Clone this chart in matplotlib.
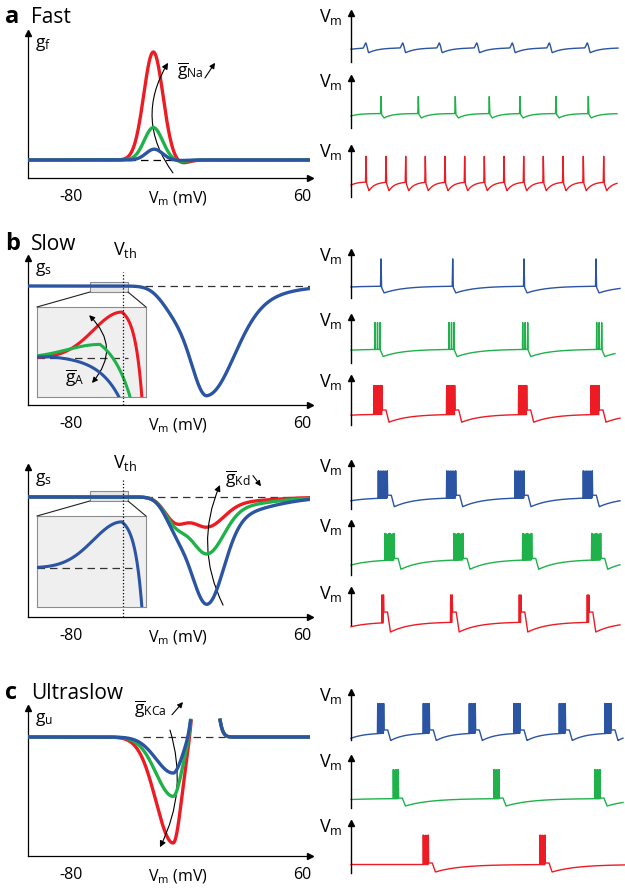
import numpy as np
import matplotlib.pyplot as plt
from matplotlib.patches import Rectangle, ConnectionPatch
from matplotlib.transforms import blended_transform_factory

plt.rcParams['font.family'] = ['Open Sans', 'DejaVu Sans']
plt.rcParams['mathtext.fontset'] = 'custom'
plt.rcParams['mathtext.rm'] = 'Open Sans'
plt.rcParams['mathtext.it'] = 'Open Sans'
plt.rcParams['mathtext.bf'] = 'Open Sans:bold'

RED, GREEN, BLUE = '#ed1c24', '#1fb24a', '#2b54a3'
COLORS = [RED, GREEN, BLUE]
W, H = 625, 888

# ---------------- conductance curves (left column), values in mV / arbitrary g
V = np.linspace(-106, 65, 1500)
V_TH = -48.5

fast_center = [-30.0, -30.0, -29.5]        # red, green, blue
fast_height = [1.0, 0.30, 0.10]
fast_sigma = [5.8, 5.5, 5.0]
fast_undershoot = [-0.035, -0.015, -0.005]

slow1_shoulder = [-18.0, 8.0, 0.18]        # center, sigma, depth
slow1_dip = [2.5, 10.0, 16.0, 0.8]         # center, sigma left, sigma right, depth
slow1_tail = [2.5, 10.0, 30.0, 0.2]

slow2_depth = [0.28, 0.53, 1.0]            # red, green, blue
slow2_shoulder = [-17.0, 6.5, 0.20]
slow2_dip = [2.5, 10.2, 10.0, 0.8]
slow2_tail = [2.5, 10.2, 30.0, 0.2]

useq_depth = [1.0, 0.56, 0.34]             # red, green, blue
useq_dip = [-18.0, 10.4, 5.0]
useq_rise = [1.3, 4.0, 2.2]                # center, sigma, height
useq_clip = 0.16

# inset curves: height, peak, sigma left, fall scale, fall slope
inset1_h = [1.18, 0.35, 0.03]
inset1_peak = [-50.5, -55.1, -65.7]
inset1_sl = [6.0, 7.0, 6.0]
inset1_c = [0.138, 0.40, 0.045]
inset1_k = [1.5, 4.3, 4.6]
inset_range = [-68.4, -45.4]

# ---------------- voltage traces (right column), t in ms-like units
trace_events = {
    'a1': [14.7, 51.7, 88.3, 125.7, 161.3, 198.3, 236.3],
    'a2': [30, 67.3, 104.3, 138.3, 169, 205, 237.3],
    'a3': [15, 35, 54.7, 74.3, 94, 113.7, 133.3, 153, 172.7, 192.3, 212, 232.3, 252.7],
    'b1': [30, 101.7, 173, 245],
    'b2': [24, 98, 171.7, 245.7],
    'b3': [23, 95.7, 167.7, 240],
    'b4': [27.3, 95.7, 164, 232.3],
    'b5': [34, 103, 171.7, 240.7],
    'b6': [31, 99.7, 168.3, 236.3],
    'c1': [26.7, 72.3, 118.3, 163, 208.3, 254],
    'c2': [42.3, 143, 244],
    'c3': [72.3, 189],
}
trace_color = {'a1': BLUE, 'a2': GREEN, 'a3': RED, 'b1': BLUE, 'b2': GREEN, 'b3': RED,
               'b4': BLUE, 'b5': GREEN, 'b6': RED, 'c1': BLUE, 'c2': GREEN, 'c3': RED}
# spikes per burst, burst width
trace_nspk = {'a1': 1, 'a2': 1, 'a3': 1, 'b1': 1, 'b2': 3, 'b3': 6, 'b4': 14, 'b5': 9,
              'b6': 2, 'c1': 10, 'c2': 8, 'c3': 8}
trace_bw = {'a1': 0, 'a2': 0, 'a3': 0, 'b1': 0, 'b2': 5, 'b3': 8, 'b4': 9, 'b5': 9,
            'b6': 1.5, 'c1': 6, 'c2': 5, 'c3': 5}
# levels: spike top, pre-spike, trough, start, hump (None = no plateau)
trace_top = {'a1': .39, 'a2': .63, 'a3': .83, 'b1': .85, 'b2': .88, 'b3': .84, 'b4': .83,
             'b5': .80, 'b6': .86, 'c1': .76, 'c2': .77, 'c3': .76}
trace_pre = {'a1': .29, 'a2': .29, 'a3': .31, 'b1': .26, 'b2': .30, 'b3': .23, 'b4': .25,
             'b5': .30, 'b6': .09, 'c1': .15, 'c2': .19, 'c3': .17}
trace_trough = {'a1': .19, 'a2': .20, 'a3': .13, 'b1': .11, 'b2': .14, 'b3': .06, 'b4': .05,
                'b5': .11, 'b6': -.20, 'c1': -.01, 'c2': .04, 'c3': .02}
trace_start = {'a1': .26, 'a2': .24, 'a3': .24, 'b1': .24, 'b2': .28, 'b3': .21, 'b4': .18,
               'b5': .19, 'b6': -.05, 'c1': .035, 'c2': .17, 'c3': .17}
trace_hump = {'b3': .32, 'b4': .30, 'b5': .32, 'b6': .37, 'c1': .21, 'c2': .20, 'c3': .20}
trace_tau = {'a1': 10, 'a2': 8, 'a3': 6, 'b1': 20, 'b2': 20, 'b3': 20, 'b4': 20, 'b5': 20,
             'b6': 20, 'c1': 14, 'c2': 25, 'c3': 25}
trace_end = {'a1': 267, 'a2': 266, 'a3': 266, 'b1': 269, 'b2': 264, 'b3': 269, 'b4': 269,
             'b5': 269, 'b6': 269, 'c1': 272, 'c2': 272, 'c3': 274}


def bump(v, c, sl, sr):
    s = np.where(v < c, sl, sr)
    return np.exp(-(v - c) ** 2 / (2 * s ** 2))


def inset_curve(v, h, vp, sl, c, k):
    left = h * np.exp(-(v - vp) ** 2 / (2 * sl ** 2))
    right = h - c * (np.exp((v - vp) / k) - 1)
    return np.where(v < vp, left, right)


def make_trace(key):
    t = np.arange(0, trace_end[key], 0.02)
    pre, trough, tau = trace_pre[key], trace_trough[key], trace_tau[key]
    hump = trace_hump.get(key)
    hump_len = 4 if hump is not None else 0
    hump_lv = hump if hump is not None else pre
    fall = 3.0
    v = pre - (pre - trace_start[key]) * np.exp(-t / tau)
    for e in trace_events[key]:
        s = t - (e + trace_bw[key])
        seg = np.where(s < hump_len, hump_lv,
                       np.where(s < hump_len + fall,
                                hump_lv + (trough - hump_lv) * (s - hump_len) / fall,
                                trough + (pre - trough) * (1 - np.exp(-(s - hump_len - fall) / tau))))
        v = np.where(s >= 0, seg, v)
    n = trace_nspk[key]
    if key == 'a1':
        hw = 2.5
    elif n == 1:
        hw = 0.5
    else:
        hw = 0.27
    for e in trace_events[key]:
        for ts in e + np.linspace(0, trace_bw[key], n):
            tri = np.clip(1 - np.abs(t - ts) / hw, 0, 1)
            v = v + (trace_top[key] - v) * tri
    return t, v


fig = plt.figure(figsize=(6.25, 8.88), dpi=100)
fig.patch.set_facecolor('white')


def add_ax(x0, y0, x1, y1):
    return fig.add_axes([x0 / W, 1 - y1 / H, (x1 - x0) / W, (y1 - y0) / H])


def style_left(ax, ylabel, ylim):
    ax.set_xlim(-106, 65)
    ax.set_ylim(*ylim)
    for s in ['top', 'right']:
        ax.spines[s].set_visible(False)
    for s in ['left', 'bottom']:
        ax.spines[s].set_linewidth(0.9)
    ax.set_yticks([])
    ax.set_xticks([-80, -15, 60])
    ax.set_xticklabels(['-80', r'$\mathrm{V}_{\mathrm{m}}$ (mV)', '60'], fontsize=11.5)
    ax.tick_params(axis='x', length=0, pad=8)
    ax.plot(0, 1, marker='^', ms=5, color='k', transform=ax.transAxes, clip_on=False)
    ax.plot(1, 0, marker='>', ms=5, color='k', transform=ax.transAxes, clip_on=False)
    ax.text(0.025, 0.92, ylabel, transform=ax.transAxes, fontsize=12.5, ha='left', va='center')
    ax.patch.set_alpha(0)


def add_inset(ax, box, rect_y):
    ax.add_patch(Rectangle((inset_range[0], rect_y[0]), inset_range[1] - inset_range[0],
                           rect_y[1] - rect_y[0], facecolor='#e6e6e6', edgecolor='#8c8c8c',
                           lw=0.8, zorder=1))
    axi = add_ax(*box)
    axi.set_facecolor('#efefef')
    for s in axi.spines.values():
        s.set_edgecolor('#8c8c8c')
        s.set_linewidth(0.8)
    axi.set_xticks([])
    axi.set_yticks([])
    tr = blended_transform_factory(ax.transData, axi.transAxes)
    axi.plot([V_TH, V_TH], [0, 1], ls=':', color='k', lw=0.9, transform=tr, zorder=5)
    for xa, xb in [(inset_range[0], 0), (inset_range[1], 1)]:
        fig.add_artist(ConnectionPatch(xyA=(xa, rect_y[0]), coordsA=ax.transData,
                                       xyB=(xb, 1), coordsB=axi.transAxes,
                                       color='#222222', lw=0.8))
    return axi


# ---------- panel a
axA = add_ax(28, 33, 310, 178)
style_left(axA, r'$\mathrm{g}_{\mathrm{f}}$', (-0.167, 1.176))
axA.plot([-106, 65], [0, 0], color='k', lw=0.9, dashes=(6, 4), zorder=1)
for i in range(3):
    g = fast_height[i] * bump(V, fast_center[i], fast_sigma[i], fast_sigma[i]) \
        + fast_undershoot[i] * bump(V, -14, 4, 5)
    axA.plot(V, g, color=COLORS[i], lw=2.4, zorder=3 + i)
axA.annotate('', xy=(-21.1, 0.9), xytext=(-18.1, -0.12),
             arrowprops=dict(arrowstyle='-|>', color='k', lw=0.8, mutation_scale=9,
                             connectionstyle='arc3,rad=-0.33', shrinkA=0, shrinkB=0))
axA.text(-7.8, 0.83, r'$\overline{\mathrm{g}}_{\mathrm{Na}}$', fontsize=12.5, ha='center', va='center')
axA.annotate('', xy=(7.4, 0.9), xytext=(1.3, 0.76),
             arrowprops=dict(arrowstyle='-|>', color='k', lw=0.8, mutation_scale=8,
                             shrinkA=0, shrinkB=0))

# ---------- panel b (top)
axB1 = add_ax(28, 258, 310, 405)
style_left(axB1, r'$\mathrm{g}_{\mathrm{s}}$', (-1.092, 0.257))
gB1 = -slow1_shoulder[2] * bump(V, slow1_shoulder[0], slow1_shoulder[1], slow1_shoulder[1]) \
      - slow1_dip[3] * bump(V, *slow1_dip[:3]) - slow1_tail[3] * bump(V, *slow1_tail[:3])
axB1.plot([-35, 65], [0, 0], color='#333333', lw=0.9, dashes=(6, 4), zorder=2)
axB1.plot(V, gB1, color=BLUE, lw=2.4, zorder=3)
axB1.plot([V_TH, V_TH], [-1.092, 0.128], ls=':', color='k', lw=0.9, zorder=4)
axB1.text(-47.2, 0.33, r'$\mathrm{V}_{\mathrm{th}}$', fontsize=13, ha='center', va='center')
axI1 = add_inset(axB1, (37, 307, 146, 397), (-0.055, 0.037))
Vi = np.linspace(inset_range[0], inset_range[1], 600)
axI1.plot([inset_range[0], -49.2], [0, 0], color='#333333', lw=0.9, dashes=(6, 4), zorder=2)
for i in range(3):
    axI1.plot(Vi, inset_curve(Vi, inset1_h[i], inset1_peak[i], inset1_sl[i], inset1_c[i], inset1_k[i]),
              color=COLORS[i], lw=2.2, zorder=3 + i)
axI1.annotate('', xy=(-56.8, -0.64), xytext=(-57.4, 1.10),
              arrowprops=dict(arrowstyle='<|-|>', color='k', lw=0.8, mutation_scale=8,
                              connectionstyle='arc3,rad=-0.46', shrinkA=0, shrinkB=0))
axI1.text(-60.4, -0.51, r'$\overline{\mathrm{g}}_{\mathrm{A}}$', fontsize=12.5, ha='center', va='center')
axI1.set_xlim(*inset_range)
axI1.set_ylim(-1, 1.31)

# ---------- panel b (bottom)
axB2 = add_ax(28, 467, 310, 617)
style_left(axB2, r'$\mathrm{g}_{\mathrm{s}}$', (-1.121, 0.28))
axB2.plot([-35, 65], [0, 0], color='#333333', lw=0.9, dashes=(6, 4), zorder=2)
for i in range(3):
    g = -slow2_shoulder[2] * bump(V, slow2_shoulder[0], slow2_shoulder[1], slow2_shoulder[1]) \
        - slow2_depth[i] * (slow2_dip[3] * bump(V, *slow2_dip[:3]) + slow2_tail[3] * bump(V, *slow2_tail[:3]))
    axB2.plot(V, g, color=COLORS[i], lw=2.4, zorder=3 + i)
axB2.plot([V_TH, V_TH], [-1.121, 0.16], ls=':', color='k', lw=0.9, zorder=6)
axB2.text(-47.2, 0.32, r'$\mathrm{V}_{\mathrm{th}}$', fontsize=13, ha='center', va='center')
axB2.annotate('', xy=(10.4, 0.112), xytext=(12.3, -1.01),
              arrowprops=dict(arrowstyle='-|>', color='k', lw=0.8, mutation_scale=9,
                              connectionstyle='arc3,rad=-0.23', shrinkA=0, shrinkB=0))
axB2.text(21.4, 0.17, r'$\overline{\mathrm{g}}_{\mathrm{Kd}}$', fontsize=12.5, ha='center', va='center')
axB2.annotate('', xy=(35.3, 0.10), xytext=(30.4, 0.20),
              arrowprops=dict(arrowstyle='-|>', color='k', lw=0.8, mutation_scale=8,
                              shrinkA=0, shrinkB=0))
axI2 = add_inset(axB2, (37, 516, 146, 607), (-0.037, 0.056))
axI2.plot([inset_range[0], -47.3], [0, 0], color='#333333', lw=0.9, dashes=(6, 4), zorder=2)
axI2.plot(Vi, inset_curve(Vi, inset1_h[0], inset1_peak[0], inset1_sl[0], inset1_c[0], inset1_k[0]),
          color=BLUE, lw=2.2, zorder=3)
axI2.set_xlim(*inset_range)
axI2.set_ylim(-1, 1.33)

# ---------- panel c
axC = add_ax(28, 708, 310, 856)
style_left(axC, r'$\mathrm{g}_{\mathrm{u}}$', (-1.123, 0.274))
axC.plot([-36.3, 13.5], [0, 0], color='#333333', lw=0.9, dashes=(6, 4), zorder=2)
for i in range(3):
    g = -useq_depth[i] * bump(V, *useq_dip) + useq_rise[2] * bump(V, useq_rise[0], useq_rise[1], useq_rise[1])
    g = np.where(g > useq_clip, np.nan, g)
    axC.plot(V, g, color=COLORS[i], lw=2.4, zorder=3 + i)
axC.annotate('', xy=(-26.0, -1.04), xytext=(-19.9, 0.066),
             arrowprops=dict(arrowstyle='-|>', color='k', lw=0.8, mutation_scale=9,
                             connectionstyle='arc3,rad=-0.2', shrinkA=0, shrinkB=0))
axC.text(-32, 0.265, r'$\overline{\mathrm{g}}_{\mathrm{KCa}}$', fontsize=12.5, ha='center', va='center')
axC.annotate('', xy=(-12, 0.33), xytext=(-18.7, 0.21),
             arrowprops=dict(arrowstyle='-|>', color='k', lw=0.8, mutation_scale=8,
                             shrinkA=0, shrinkB=0), annotation_clip=False)

# ---------- panel titles
for lab, title, yb in [('a', 'Fast', 23), ('b', 'Slow', 250), ('c', 'Ultraslow', 699)]:
    fig.text(5 / W, 1 - yb / H, lab, fontsize=17, fontweight='bold', va='baseline')
    fig.text(31 / W, 1 - yb / H, title, fontsize=15, va='baseline')

# ---------- traces
trace_box = {'a1': (13, 62), 'a2': (78, 128), 'a3': (148, 197),
             'b1': (252, 298), 'b2': (317, 363), 'b3': (378, 425),
             'b4': (463, 509), 'b5': (523, 575), 'b6': (590, 625),
             'c1': (692, 740), 'c2': (758, 808), 'c3': (823, 873)}
for key, (y0, y1) in trace_box.items():
    ax = add_ax(351, y0, 622, y1)
    ax.set_xlim(0, 271)
    ax.set_ylim(0, 1)
    for s in ['top', 'right', 'bottom']:
        ax.spines[s].set_visible(False)
    ax.spines['left'].set_linewidth(1.0)
    ax.set_xticks([])
    ax.set_yticks([])
    ax.patch.set_alpha(0)
    ax.plot(0, 1, marker='^', ms=5, color='k', transform=ax.transAxes, clip_on=False)
    t, v = make_trace(key)
    ax.plot(t, v, color=trace_color[key], lw=1.0, clip_on=False)
    ax.text(-0.03, 1 - 4.0 / (y1 - y0), r'$\mathrm{V}_{\mathrm{m}}$', transform=ax.transAxes,
            fontsize=13, ha='right', va='center')

fig.savefig('out.png', dpi=100)
